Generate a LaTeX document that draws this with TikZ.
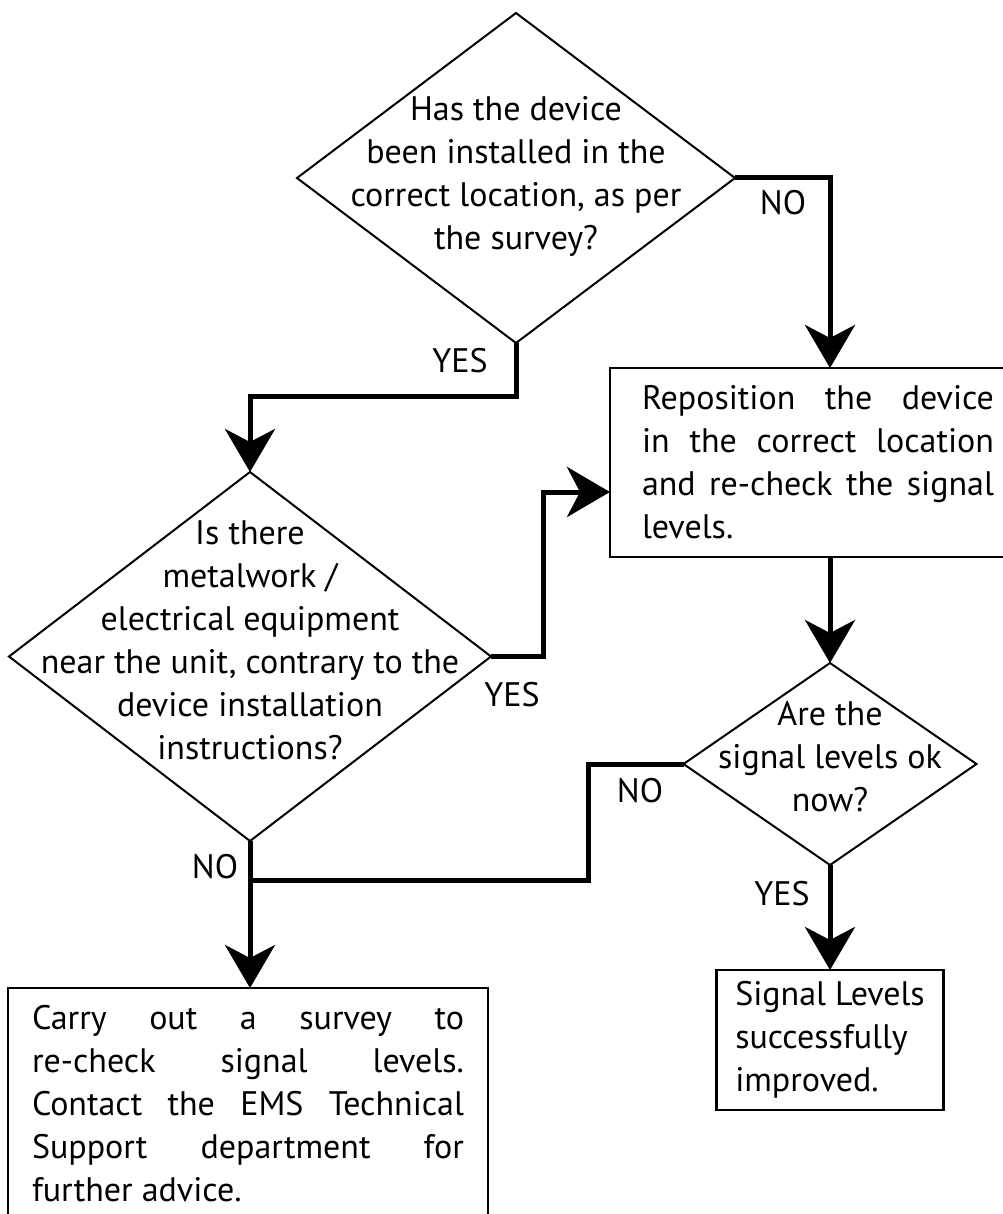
\documentclass[tikz,border=0pt]{standalone}
\usepackage{fontspec}
\setmainfont{PT Sans}
\usetikzlibrary{shapes.geometric,arrows.meta}
\tolerance=10000
\hbadness=10000

\tikzset{
	decision/.style={draw, shape=diamond, line width=2pt, inner sep=0pt, outer sep=0pt},
	actionbox/.style={draw, rectangle, line width=2.5pt, outer sep=0pt, align=justify},
	qtext/.style={align=center, inner sep=0pt},
	flow/.style={line width=5pt, -{Stealth[length=43pt, width=50pt, inset=13pt]}},
	flowend/.style={line width=5pt},
	branch/.style={inner sep=0pt}
}

\begin{document}
\begin{tikzpicture}[x=1pt, y=-1pt, every node/.style={font=\fontsize{34}{43}\selectfont}]
\useasboundingbox (0,0) rectangle (1002,1214);

\pgfmathsetmacro{\colL}{250}
\pgfmathsetmacro{\colM}{516}
\pgfmathsetmacro{\colR}{830}

\node[decision, minimum width=438pt, minimum height=330pt] (survey) at (\colM,178) {};
\node[qtext] (surveytxt) at (\colM,176) {Has the device\\been installed in the\\correct location, as per\\the survey?};

\node[actionbox, anchor=north west, text width=352pt, inner xsep=32pt, minimum height=189pt] (reposition) at (610,368)
	{Reposition the device\linebreak in the correct location\linebreak and re-check the signal\linebreak levels.};

\node[decision, minimum width=482pt, minimum height=369pt] (metal) at (\colL,656.5) {};
\node[qtext] (metaltxt) at (\colL,640) {Is there\\metalwork /\\electrical equipment\\near the unit, contrary to the\\device installation\\instructions?};

\node[decision, minimum width=293pt, minimum height=202pt] (levels) at (\colR,764) {};
\node[qtext] (levelstxt) at (\colR,757) {Are the\\signal levels ok\\now?};

\node[actionbox, align=left, minimum width=227pt, minimum height=140pt, anchor=north] (improved) at (\colR,970)
	{Signal Levels\\successfully\\improved.};

\node[actionbox, anchor=north west, text width=432pt, inner xsep=24pt, inner ysep=17pt] (contact) at (8,988)
	{Carry out a survey to\linebreak re-check signal levels.\linebreak Contact the EMS Technical\linebreak Support department for\linebreak further advice.};

\coordinate (repIn) at ([yshift=-29.5pt]reposition.west);
\coordinate (join) at ([yshift=-39pt]metal.south);

\draw[flow] (survey.east) -| (reposition.north west -| levels.north);
\draw[flow] (survey.south) -- ++(0,53) -| (metal.north);
\draw[flow] (metal.east) -- ++(52,0) |- (repIn);
\draw[flow] (reposition.south -| levels.north) -- (levels.north);
\draw[flowend] (levels.west) -- ++(-95,0) |- (join);
\draw[flow] (metal.south) -- (metal.south |- contact.north);
\draw[flow] (levels.south) -- (improved.north);

\node[branch] (yes1) at (460,361) {YES};
\node[branch] (no1) at (783,203) {NO};
\node[branch] (yes2) at (512,695) {YES};
\node[branch] (no2) at (215,867) {NO};
\node[branch] (no3) at (640,791) {NO};
\node[branch] (yes3) at (782,894) {YES};
\end{tikzpicture}
\end{document}
